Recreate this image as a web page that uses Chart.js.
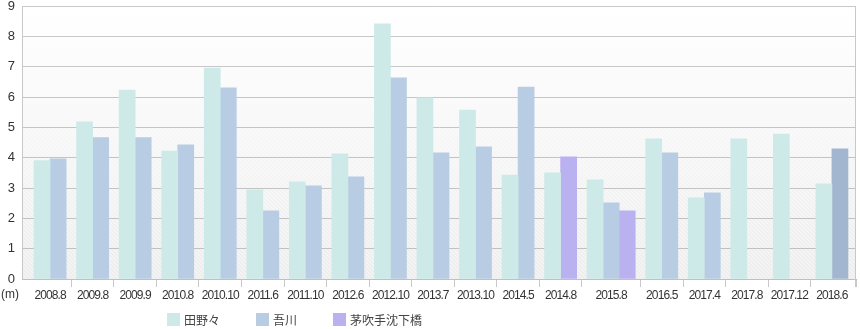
<!DOCTYPE html>
<html lang="ja">
<head>
<meta charset="utf-8">
<script src="https://cdn.jsdelivr.net/npm/chart.js@4.4.1/dist/chart.umd.min.js"></script>
<style>
    html, body { margin: 0; padding: 0; background: #fff; }
    #wrap { position: relative; width: 860px; height: 329px; }
    #legend {
        position: absolute; left: 167px; top: 310px; height: 18px;
        display: flex; align-items: center;
        font: 12px "Noto Sans CJK JP", sans-serif; color: #444;
    }
    #legend .item { display: flex; align-items: center; margin-right: 36px; }
    #legend .box { width: 13px; height: 13px; margin-right: 4px; }
</style>
</head>
<body>
<div id="wrap">
    <canvas id="myChart" width="860" height="329"></canvas>
    <div id="legend"></div>
</div>
<script>
const categories = ["2008.8", "2009.8", "2009.9", "2010.8", "2010.10", "2011.6", "2011.10", "2012.6", "2012.10", "2013.7",
    "2013.10", "2014.5", "2014.8", "2015.8", "2016.5", "2017.4", "2017.8", "2017.12", "2018.6"];
const seriesNames = ["田野々", "吾川", "茅吹手沈下橋"];
const tanono = [3.9, 5.18, 6.23, 4.22, 6.95, 2.94, 3.2, 4.13, 8.41, 5.97, 5.57, 3.43, 3.5, 3.27, 4.62, 2.68, 4.62, 4.78, 3.14];
const agawa = [3.96, 4.66, 4.66, 4.42, 6.3, 2.25, 3.07, 3.37, 6.63, 4.16, 4.36, 6.33, null, 2.51, 4.16, 2.84, null, null, 4.29];
const kayafuki = [null, null, null, null, null, null, null, null, null, null, null, null, 4.03, 2.25, null, null, null, null, null];
const yTicks = [0, 1, 2, 3, 4, 5, 6, 7, 8, 9];

const colors = ["#cdeae9", "#b8cde3", "#bab1f0"];
const latestDate = "2018.6";
const latestAgawaColor = "#a2b7cf";

// each date gets one slot per station with data (at least two), gaps between dates
const GAP = 0.65;
const series = [tanono, agawa, kayafuki];
const points = series.map(() => []);
const groups = [];
let pos = 0;
categories.forEach((cat, i) => {
    const present = [];
    series.forEach((s, k) => { if (s[i] != null) present.push(k); });
    const slots = Math.max(2, present.length);
    present.forEach((k, j) => points[k].push({ x: pos + j + 0.5, y: series[k][i], cat: i }));
    groups.push({ start: pos, slots: slots });
    pos += slots + GAP;
});
const xEnd = pos - GAP;
const xMin = -0.75;
const xMax = xEnd + 0.5;

// labels sit in the middle of each date, tick marks between dates
const xTicks = [];
groups.forEach((g, i) => {
    if (i > 0) xTicks.push({ value: g.start - GAP / 2, label: "" });
    xTicks.push({ value: g.start + g.slots / 2, label: categories[i] });
});
xTicks.push({ value: xMax, label: "" });

function stripePattern(ctx) {
    const c = document.createElement("canvas");
    c.width = 4;
    c.height = 4;
    const p = c.getContext("2d");
    p.strokeStyle = "rgba(255,255,255,0.9)";
    p.lineWidth = 1;
    p.beginPath();
    p.moveTo(0, 0); p.lineTo(4, 4);
    p.moveTo(-1, 3); p.lineTo(1, 5);
    p.moveTo(3, -1); p.lineTo(5, 1);
    p.stroke();
    return ctx.createPattern(c, "repeat");
}

const plotBackground = {
    id: "plotBackground",
    beforeDraw(chart) {
        const { ctx, chartArea: a } = chart;
        ctx.save();
        const grad = ctx.createLinearGradient(0, a.top, 0, a.bottom);
        grad.addColorStop(0, "#ffffff");
        grad.addColorStop(0.35, "#f9f9f9");
        grad.addColorStop(1, "#eeeeee");
        ctx.fillStyle = grad;
        ctx.fillRect(a.left, a.top, a.right - a.left, a.bottom - a.top);
        ctx.globalAlpha = 0.55;
        ctx.fillStyle = stripePattern(ctx);
        ctx.fillRect(a.left, a.top, a.right - a.left, a.bottom - a.top);
        ctx.restore();
        // tighter date labels
        ctx.letterSpacing = "-0.9px";
    },
    afterDraw(chart) {
        const { ctx, chartArea: a } = chart;
        ctx.letterSpacing = "0px";
        ctx.save();
        ctx.strokeStyle = "#c8c8c8";
        ctx.lineWidth = 1;
        ctx.beginPath();
        ctx.moveTo(a.right - 0.5, a.top);
        ctx.lineTo(a.right - 0.5, a.bottom + 8);
        ctx.stroke();
        ctx.fillStyle = "#333";
        ctx.font = '12px "Liberation Sans", Arial, sans-serif';
        ctx.textBaseline = "middle";
        ctx.fillText("(m)", 1, a.bottom + 16);
        ctx.restore();
    },
};

const ctx = document.getElementById("myChart").getContext("2d");

const myChart = new Chart(ctx, {
    type: "bar",
    data: {
        datasets: seriesNames.map((name, k) => ({
            label: name,
            data: points[k],
            backgroundColor: k === 1
                ? (c) => (c.raw && categories[c.raw.cat] === latestDate ? latestAgawaColor : colors[1])
                : colors[k],
            borderWidth: 0,
            grouped: false,
            barPercentage: 1,
            categoryPercentage: 1,
        })),
    },
    options: {
        responsive: false,
        animation: false,
        layout: { padding: { top: 6, right: 4, left: 0, bottom: 0 } },
        plugins: {
            legend: { display: false },
            tooltip: { enabled: false },
        },
        scales: {
            x: {
                type: "linear",
                offset: false,
                min: xMin,
                max: xMax,
                afterBuildTicks: (scale) => {
                    scale.ticks = xTicks.map((t) => ({ value: t.value }));
                },
                afterFit: (scale) => {
                    scale.height = 50;
                    scale.paddingLeft = 0;
                    scale.paddingRight = 0;
                },
                ticks: {
                    autoSkip: false,
                    maxRotation: 0,
                    padding: 1,
                    color: "#333",
                    font: { family: '"Liberation Sans", Arial, sans-serif', size: 12 },
                    callback: (value, index) => xTicks[index].label,
                },
                grid: {
                    offset: false,
                    drawOnChartArea: false,
                    tickLength: 8,
                    color: (c) => (xTicks[c.index] && xTicks[c.index].label === "" ? "#c8c8c8" : "rgba(0,0,0,0)"),
                },
                border: { color: "#c0c0c0" },
            },
            y: {
                min: 0,
                max: 9,
                z: 1,
                afterBuildTicks: (scale) => {
                    scale.ticks = yTicks.map((v) => ({ value: v }));
                },
                afterFit: (scale) => {
                    scale.width = 22;
                    scale.paddingTop = 0;
                    scale.paddingBottom = 0;
                },
                ticks: {
                    padding: 8,
                    color: "#333",
                    font: { family: '"Liberation Sans", Arial, sans-serif', size: 13 },
                },
                grid: {
                    drawTicks: false,
                    color: "rgba(120,120,120,0.4)",
                },
                border: { color: "#c8c8c8" },
            },
        },
    },
    plugins: [plotBackground],
});

// legend below the plot
const legend = document.getElementById("legend");
seriesNames.forEach((name, k) => {
    const item = document.createElement("div");
    item.className = "item";
    const box = document.createElement("span");
    box.className = "box";
    box.style.background = colors[k];
    const text = document.createElement("span");
    text.textContent = name;
    item.appendChild(box);
    item.appendChild(text);
    legend.appendChild(item);
});
</script>
</body>
</html>
